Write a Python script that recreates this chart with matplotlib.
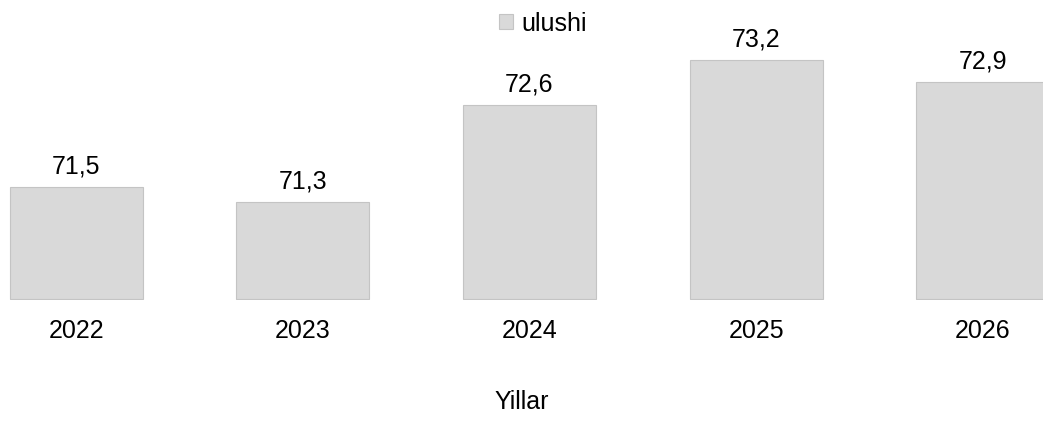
import matplotlib
matplotlib.use("Agg")
import matplotlib.pyplot as plt

years = ["2022", "2023", "2024", "2025", "2026"]
ulushi = [71.5, 71.3, 72.6, 73.2, 72.9]
value_labels = ["71,5", "71,3", "72,6", "73,2", "72,9"]
base = 70.0

plt.rcParams["font.family"] = ["Liberation Sans", "DejaVu Sans"]

fig = plt.figure(figsize=(10.43, 4.39), dpi=100)
# axes runs past the figure edges, the original picture is cropped
ax = fig.add_axes([-0.0355, (439 - 301) / 439, 1133 / 1043, 300 / 439])

x = range(len(years))
bars = ax.bar(x, [v - base for v in ulushi], width=0.587, bottom=base, color="#d9d9d9",
              edgecolor="#c4c4c4", linewidth=0.8, label="ulushi")
ax.set_ylim(69.99, 74)
ax.set_xlim(-0.5, len(years) - 0.5)

for b, lab in zip(bars, value_labels):
    ax.annotate(lab, (b.get_x() + b.get_width() / 2, b.get_y() + b.get_height()),
                xytext=(0, 7), textcoords="offset points",
                ha="center", va="bottom", fontsize=18, color="#000000")

ax.set_xticks(list(x))
ax.set_xticklabels(years, fontsize=18)
ax.tick_params(axis="x", length=0, pad=13)
ax.set_yticks([])
for s in ax.spines.values():
    s.set_visible(False)

fig.text(0.5, (439 - 402) / 439, "Yillar", ha="center", va="center", fontsize=18)

fig.legend(handles=[bars], labels=["ulushi"], loc="center",
           bbox_to_anchor=(543 / 1043, (439 - 24) / 439), frameon=False,
           fontsize=18, handlelength=0.55, handleheight=0.55, handletextpad=0.35)

fig.savefig("out.png", dpi=100)
